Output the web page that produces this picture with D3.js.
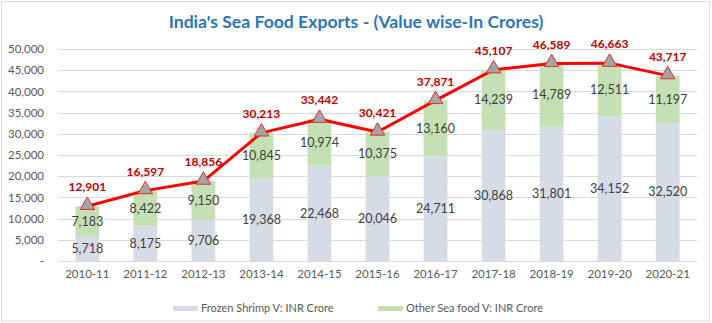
<!DOCTYPE html>
<html><head><meta charset="utf-8">
<script src="https://cdn.jsdelivr.net/npm/d3@7"></script>
<style>body{margin:0;background:#fff}svg{display:block;font-family:Lato,"Open Sans",sans-serif}</style>
</head><body>
<svg id="c" width="712" height="323"></svg>
<script>
const categories = ["2010-11","2011-12","2012-13","2013-14","2014-15","2015-16","2016-17","2017-18","2018-19","2019-20","2020-21"];
const shrimp = [5718,8175,9706,19368,22468,20046,24711,30868,31801,34152,32520];
const other = [7183,8422,9150,10845,10974,10375,13160,14239,14789,12511,11197];
const total = [12901,16597,18856,30213,33442,30421,37871,45107,46589,46663,43717];
const yTicks = [0,5000,10000,15000,20000,25000,30000,35000,40000,45000,50000];
const seriesNames = ["Frozen Shrimp V: INR Crore","Other Sea food V: INR Crore"];
const colors = ["#D6DCE5","#C5E0B4"];

const svg = d3.select("#c");
svg.append("rect").attr("x",1.5).attr("y",1.5).attr("width",708).attr("height",319.5)
  .attr("fill","#fff").attr("stroke","#D9D9D9").attr("stroke-width",1);

const x = d3.scaleBand().domain(categories).range([58,697]).paddingInner(0.59).paddingOuter(0.3);
const y = d3.scaleLinear().domain([0,50000]).range([261,49]);

// gridlines
svg.append("g").selectAll("line").data(yTicks).join("line")
  .attr("x1",58).attr("x2",697).attr("y1",d=>Math.round(y(d))+0.5).attr("y2",d=>Math.round(y(d))+0.5)
  .attr("stroke","#D9D9D9").attr("stroke-width",1);

// y axis
const fmt = d3.format(",");
const yAxis = d3.axisLeft(y).tickValues(yTicks).tickSize(0).tickPadding(0)
  .tickFormat(d=> d===0 ? "-" : fmt(d));
const gy = svg.append("g").attr("transform","translate(44,0)").call(yAxis);
gy.select(".domain").remove();
gy.selectAll("text").attr("font-size",11.5).attr("fill","#595959").attr("font-family","Lato,sans-serif");

// x axis
const xAxis = d3.axisBottom(x).tickSize(0).tickPadding(0);
const gx = svg.append("g").attr("transform","translate(0,270)").call(xAxis);
gx.select(".domain").remove();
gx.selectAll("text").attr("font-size",11.5).attr("fill","#595959").attr("font-family","Lato,sans-serif");

// stacked bars
const stackData = categories.map((c,i)=>({cat:c, shrimp:shrimp[i], other:other[i]}));
const stack = d3.stack().keys(["shrimp","other"])(stackData);
const bars = svg.append("g");
stack.forEach((s,si)=>{
  bars.append("g").selectAll("rect").data(s).join("rect")
    .attr("x",d=>x(d.data.cat)).attr("width",x.bandwidth())
    .attr("y",d=>y(d[1])).attr("height",d=>y(d[0])-y(d[1]))
    .attr("fill",colors[si]);
  bars.append("g").selectAll("text").data(s).join("text")
    .attr("x",d=>x(d.data.cat)+x.bandwidth()/2)
    .attr("y",d=>(y(d[0])+y(d[1]))/2)
    .attr("dy","0.35em").attr("text-anchor","middle")
    .attr("font-size",12.5).attr("fill","#404040")
    .text(d=>fmt(d[1]-d[0]));
});

// total line
const cx = c => x(c)+x.bandwidth()/2;
const line = d3.line().x((d,i)=>cx(categories[i])).y(d=>y(d));
svg.append("path").datum(total).attr("d",line).attr("fill","none")
  .attr("stroke","#FF0000").attr("stroke-width",3).attr("stroke-linejoin","round");
const tri = d3.symbol().type(d3.symbolTriangle).size(90);
svg.append("g").selectAll("path").data(total).join("path")
  .attr("d",tri).attr("transform",(d,i)=>`translate(${cx(categories[i])},${y(d)-1})`)
  .attr("fill","#A5A5A5").attr("stroke","#E03030").attr("stroke-width",1);
svg.append("g").selectAll("text").data(total).join("text")
  .attr("x",(d,i)=>cx(categories[i])).attr("y",d=>y(d)-19).attr("dy","0.35em")
  .attr("text-anchor","middle").attr("font-size",12).attr("font-weight","bold")
  .attr("fill","#C00000").text(d=>fmt(d));

// title
const title = svg.append("text").attr("x",356).attr("y",28).attr("text-anchor","middle")
  .attr("font-size",16).attr("font-weight","bold").attr("fill","#2E75B6")
  .text("India's Sea Food Exports - (Value wise-In Crores)");
const tw = title.node().getComputedTextLength();
title.attr("font-size",16*375/tw);

// legend
const legX = [173,378];
seriesNames.forEach((n,i)=>{
  svg.append("rect").attr("x",legX[i]).attr("y",306).attr("width",25).attr("height",5).attr("fill",colors[i]);
  svg.append("text").attr("x",legX[i]+28).attr("y",308.5).attr("dy","0.35em")
    .attr("font-size",11).attr("fill","#595959").text(n);
});
</script>
</body></html>
